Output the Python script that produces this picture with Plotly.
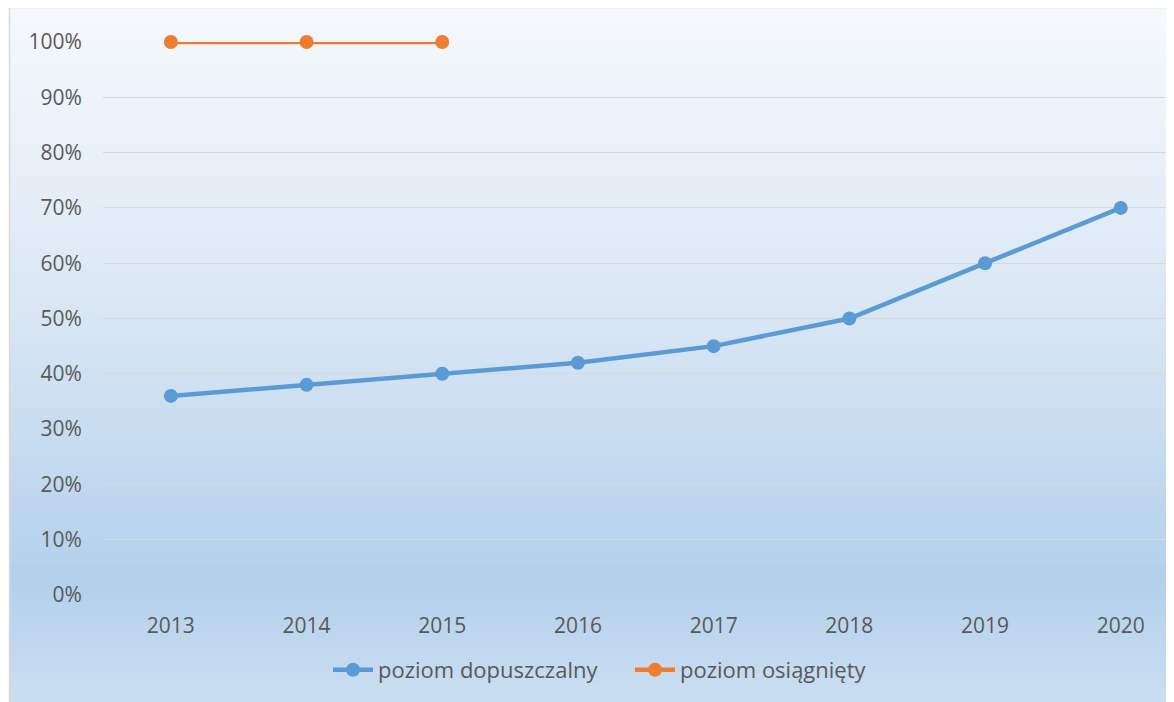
import plotly.graph_objects as go

years = ["2013", "2014", "2015", "2016", "2017", "2018", "2019", "2020"]
dopuszczalny = [36, 38, 40, 42, 45, 50, 60, 70]
osiagniety_years = ["2013", "2014", "2015"]
osiagniety = [100, 100, 100]
y_ticks = [0, 10, 20, 30, 40, 50, 60, 70, 80, 90, 100]
y_labels = [f"{v}%" for v in y_ticks]

W, H = 1174, 702
OFF = 8  # page body margin offset
L, R, T, B = 103 - OFF, 0, 42 - OFF, 702 - 595 + OFF
PW, PH = W - L - R, H - T - B

def px_x(px):  # page pixel -> paper
    return (px - OFF - L) / PW

def px_y(py):
    return (H - B - (py - OFF)) / PH

fig = go.Figure()

fig.add_trace(go.Scatter(
    x=years, y=dopuszczalny, name="poziom dopuszczalny", mode="lines+markers",
    line=dict(color="#5b9bd5", width=4.5), marker=dict(color="#5b9bd5", size=14),
    cliponaxis=False))
fig.add_trace(go.Scatter(
    x=osiagniety_years, y=osiagniety, name="poziom osiągnięty", mode="lines+markers",
    line=dict(color="#ed7d31", width=4.5), marker=dict(color="#ed7d31", size=14),
    cliponaxis=False))

# gradient background
stops = [(0.0, (246, 249, 252)), (0.45, (216, 230, 244)), (0.82, (179, 208, 235)), (1.0, (203, 222, 242))]
def col(t):
    t = min(max(t, 0.0), 1.0)
    for (t0, c0), (t1, c1) in zip(stops, stops[1:]):
        if t <= t1:
            f = (t - t0) / (t1 - t0) if t1 > t0 else 0
            return "rgb(%d,%d,%d)" % tuple(round(a + (b - a) * f) for a, b in zip(c0, c1))
    return "rgb(%d,%d,%d)" % stops[-1][1]

top_px, left_px = 8, 10
n = 90
shapes = []
for i in range(n + 3):
    ya = top_px + (H - top_px) * i / n
    yb = top_px + (H - top_px) * (i + 1) / n + 1
    shapes.append(dict(type="rect", xref="paper", yref="paper", layer="below",
                       x0=px_x(left_px), x1=px_x(W + 20), y0=px_y(yb), y1=px_y(ya),
                       fillcolor=col((i + 0.5) / n), line=dict(width=0)))
shapes.append(dict(type="rect", xref="paper", yref="paper", layer="below",
                   x0=px_x(left_px - 0.5), x1=px_x(W + 20), y0=px_y(H + 40), y1=px_y(top_px - 0.5),
                   fillcolor="rgba(0,0,0,0)", line=dict(color="#d9d9d9", width=1.5)))

font = "Open Sans, Liberation Sans, sans-serif"
fig.update_layout(
    width=W, height=H,
    margin=dict(l=L, r=R, t=T, b=B),
    paper_bgcolor="white", plot_bgcolor="rgba(0,0,0,0)",
    shapes=shapes,
    font=dict(family=font, color="#595959", size=21),
    showlegend=True,
    legend=dict(orientation="h", x=px_x(328), xanchor="left", y=px_y(670), yanchor="middle",
                font=dict(size=22, color="#595959"), bgcolor="rgba(0,0,0,0)",
                itemwidth=40, entrywidth=247, traceorder="normal"),
    xaxis=dict(type="category", range=[-0.5, -0.5 + PW / 135.7], showgrid=False, zeroline=False,
               showline=False, ticks="outside", ticklen=12, tickcolor="rgba(0,0,0,0)",
               tickfont=dict(size=21, color="#595959")),
    yaxis=dict(range=[0, 100], tickvals=y_ticks, ticktext=y_labels, showgrid=True,
               gridcolor="#d9d9d9", gridwidth=1, zeroline=False, showline=False,
               ticks="outside", ticklen=16, tickcolor="rgba(0,0,0,0)",
               tickfont=dict(size=21, color="#595959")),
)
fig.write_html("out.html")
